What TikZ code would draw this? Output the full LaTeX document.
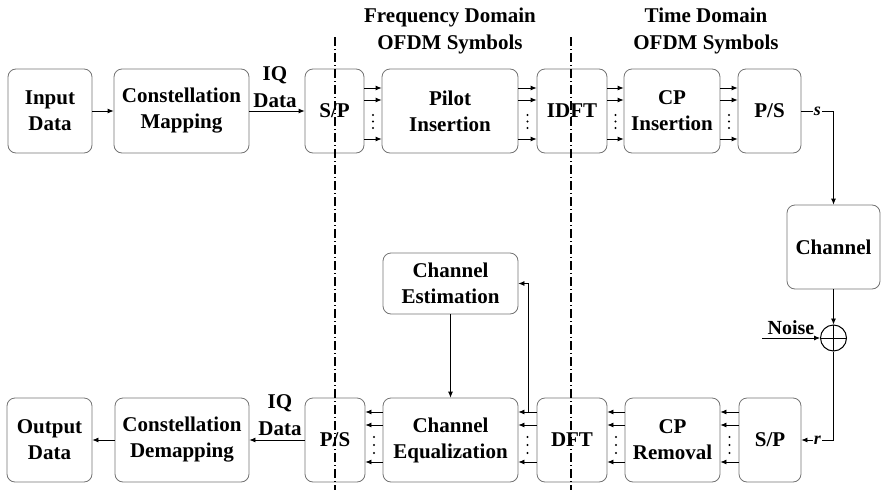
\documentclass[tikz,border=0pt]{standalone}
\usepackage{fontspec}
\setmainfont{Liberation Serif}
\usetikzlibrary{arrows.meta,calc}
\tikzset{
  blk/.style={draw=black!55, line width=0.8pt, rounded corners=8pt, align=center, inner sep=0pt,
    font=\bfseries\fontsize{21}{26}\selectfont},
  lbl/.style={align=center, inner sep=0pt, font=\bfseries\fontsize{21}{27}\selectfont},
  arr/.style={line width=0.8pt, -{Latex[length=6pt,width=5pt]}},
  ln/.style={line width=0.8pt},
  sig/.style={fill=white, inner sep=1pt, font=\bfseries\itshape\fontsize{18}{18}\selectfont},
  dashdot/.style={line width=1.2pt, dash pattern=on 9pt off 3pt on 1pt off 3pt}
}
\newcommand\pararrows[7]{%
  \foreach \o in {#3,#4,#5} \draw[arr] ([yshift=\o pt]#1) -- ([yshift=\o pt]#2);
  \foreach \o in {#6,#7} \fill ($(#1)!.5!(#2)+(0,\o)$) circle (1.1pt);
  \fill ($(#1)!.5!(#2)+(0,#6/2+#7/2)$) circle (1.1pt);
}
\begin{document}
\begin{tikzpicture}[x=1pt,y=-1pt]
\useasboundingbox (0,0) rectangle (881,490);
% titles
\node[lbl] (t1) at (450,31) {Frequency Domain\\OFDM Symbols};
\node[lbl] (t2) at (706,31) {Time Domain\\OFDM Symbols};
% top row
\node[blk, minimum width=84pt, minimum height=84pt] (in) at (50,111) {Input\\Data};
\node[blk, minimum width=135pt, minimum height=84pt] (cmap) at (181.5,111) {Constellation\\Mapping};
\node[blk, minimum width=59pt, minimum height=84pt] (sp1) at (334.5,111) {S/P};
\node[blk, minimum width=136pt, minimum height=84pt] (pilot) at (450,111) {Pilot\\Insertion};
\node[blk, minimum width=70pt, minimum height=84pt] (idft) at (572,111) {IDFT};
\node[blk, minimum width=96pt, minimum height=84pt] (cpi) at (672,111) {CP\\Insertion};
\node[blk, minimum width=63pt, minimum height=84pt] (ps1) at (769.5,111) {P/S};
% channel
\node[blk, minimum width=93pt, minimum height=84pt] (chan) at (833.5,247) {Channel};
\node[draw, line width=1pt, circle, minimum size=26pt, inner sep=0pt,
  path picture={\draw[line width=1pt] (path picture bounding box.north) -- (path picture bounding box.south)
  (path picture bounding box.west) -- (path picture bounding box.east);}] (sum) at (833.5,338) {};
% bottom row
\node[blk, minimum width=85pt, minimum height=84pt] (out) at (49.5,440) {Output\\Data};
\node[blk, minimum width=134pt, minimum height=84pt] (cdem) at (182,440) {Constellation\\Demapping};
\node[blk, minimum width=60pt, minimum height=84pt] (ps2) at (335,440) {P/S};
\node[blk, minimum width=135pt, minimum height=84pt] (ceq) at (450.5,440) {Channel\\Equalization};
\node[blk, minimum width=70pt, minimum height=84pt] (dft) at (572,440) {DFT};
\node[blk, minimum width=95pt, minimum height=84pt] (cpr) at (672.5,440) {CP\\Removal};
\node[blk, minimum width=62pt, minimum height=84pt] (sp2) at (770,440) {S/P};
\node[blk, minimum width=135pt, minimum height=61pt] (chest) at (450.5,283.5) {Channel\\Estimation};
% IQ labels
\node[lbl] (iq1) at (275,87) {IQ\\Data};
\node[lbl] (iq2) at (280,415) {IQ\\Data};
% top connectors
\draw[arr] (in) -- (cmap);
\draw[arr] (cmap) -- (sp1);
\pararrows{sp1.east}{pilot.west}{23}{11}{-28}{4}{17}
\pararrows{pilot.east}{idft.west}{23}{11}{-28}{4}{17}
\pararrows{idft.east}{cpi.west}{23}{11}{-28}{4}{17}
\pararrows{cpi.east}{ps1.west}{23}{11}{-28}{4}{17}
\draw[arr] (ps1.east) -- node[sig] {s} (ps1.east -| chan.north) -- (chan.north);
\draw[arr] (chan.south) -- (sum.north);
\coordinate (nz) at (762,338);
\draw[arr] (nz) -- node[lbl, above=3pt, font=\bfseries\fontsize{20}{20}\selectfont] (nl) {Noise} (sum.west);
\draw[arr] (sum.south) |- node[sig, pos=0.75] {r} (sp2.east);
% bottom connectors
\pararrows{sp2.west}{cpr.east}{28}{15}{-22}{-3}{13}
\pararrows{cpr.west}{dft.east}{28}{15}{-22}{-3}{13}
\pararrows{dft.west}{ceq.east}{28}{15}{-22}{-3}{13}
\pararrows{ceq.west}{ps2.east}{28}{15}{-22}{-3}{13}
\draw[arr] (ps2) -- (cdem);
\draw[arr] (cdem) -- (out);
\coordinate (fb) at ([xshift=-8pt,yshift=28pt]dft.west);
\draw[arr] (fb) |- (chest.east);
\draw[arr] (chest.south) -- (chest.south |- ceq.north);
% domain separators
\draw[dashdot] (335,37) -- (335,490);
\draw[dashdot] (571,37) -- (571,490);
\end{tikzpicture}
\end{document}
